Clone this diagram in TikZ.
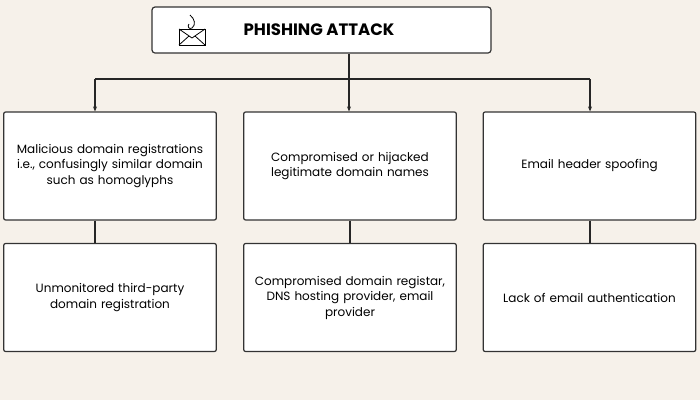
\documentclass[tikz,border=0pt]{standalone}
\usepackage{fontspec}
\setmainfont{Poppins}
\usepackage{tikz}
\usetikzlibrary{arrows.meta}
\definecolor{bgcream}{HTML}{F6F1EA}

\begin{document}
\begin{tikzpicture}[x=1pt,y=-1pt,
  card/.style={draw=black!80,line width=1.2pt,fill=white,rounded corners=2pt,
    minimum width=210pt,minimum height=108pt,align=center,font=\fontsize{12}{15.5}\selectfont,text width=206pt},
  link/.style={draw=black!85,line width=1.1pt},
  tip/.style={link,-{Stealth[length=5pt,width=4pt]}}]
\fill[bgcream](0,0) rectangle (700,400);
\useasboundingbox (0,0) rectangle (700,400);
%
\node[draw=black!80,line width=1.2pt,fill=white,rounded corners=3pt,minimum width=339pt,minimum height=46pt] (title) at (321.5,30) {};
\node[font=\fontsize{16.5}{18}\selectfont\bfseries] (titletext) at (319,30) {PHISHING ATTACK};
% envelope icon
\draw[line width=0.8pt] (179,29) rectangle (205,45);
\draw[line width=0.8pt] (179,29) -- (192,38) -- (205,29);
\draw[line width=0.8pt] (179,45) -- (189,36);
\draw[line width=0.8pt] (205,45) -- (195,36);
\draw[line width=0.8pt] (190,15) .. controls (195,19) and (196,25) .. (192,28) .. controls (189,30) and (187,26) .. (189,24);
%
\node[card] (a1) at (110,166) {Malicious domain registrations\\i.e., confusingly similar domain\\such as homoglyphs};
\node[card] (b1) at (350,166) {Compromised or hijacked\\legitimate domain names};
\node[card] (c1) at (589.5,166) {Email header spoofing};
\node[card] (a2) at (110,297.5) {Unmonitored third-party\\domain registration};
\node[card] (b2) at (350,297.5) {Compromised domain registar,\\DNS hosting provider, email\\provider};
\node[card] (c2) at (589.5,297.5) {Lack of email authentication};
%
\coordinate (ja) at (95,79);
\coordinate (jb) at (349,79);
\coordinate (jc) at (590,79);
\draw[link] (title.south -| jb) -- (jb);
\draw[link] (ja) -- (jc);
\draw[tip] (ja) -- (ja |- a1.north);
\draw[tip] (jb) -- (jb |- b1.north);
\draw[tip] (jc) -- (jc |- c1.north);
\draw[link] (a1.south -| ja) -- (a2.north -| ja);
\draw[link] (b1.south) -- (b2.north);
\draw[link] (c1.south -| jc) -- (c2.north -| jc);
\end{tikzpicture}
\end{document}
